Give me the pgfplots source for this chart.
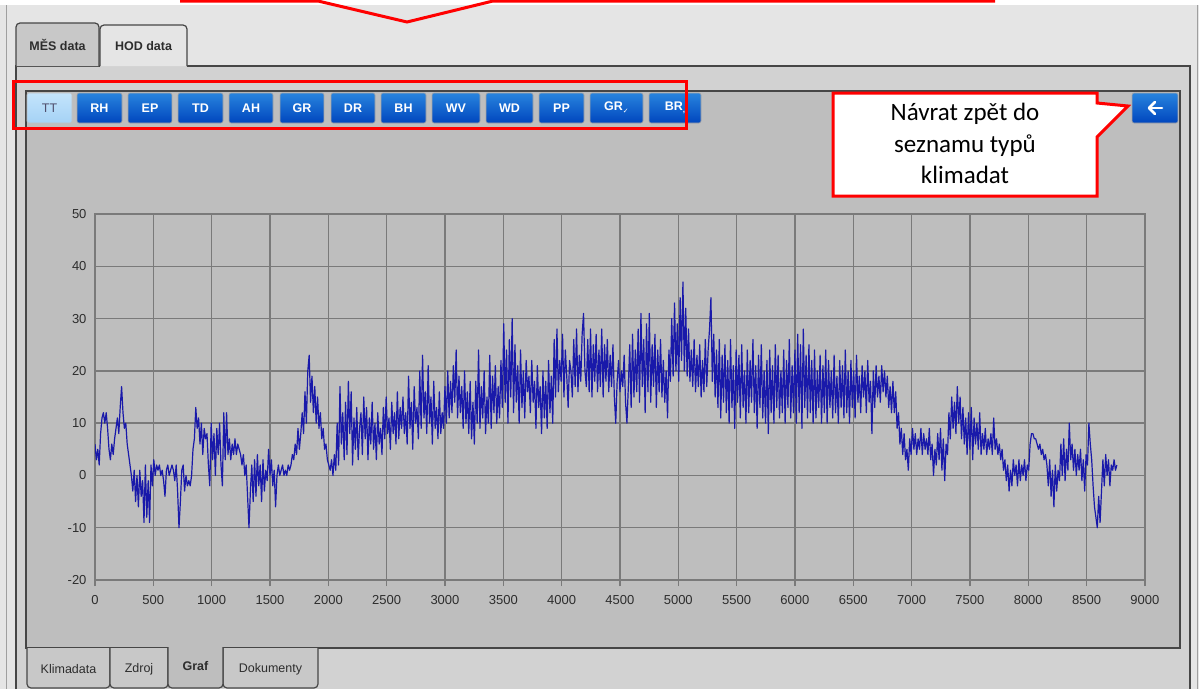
\documentclass[border=0pt]{standalone}
\usepackage{fontspec}
\setmainfont{Liberation Sans}
\newfontfamily\calibri{Carlito}
\newfontfamily\dejavu{DejaVu Sans}
\usepackage{pgfplots}
\pgfplotsset{compat=1.18}
\definecolor{outerbg}{RGB}{229,229,229}
\definecolor{panelbg}{RGB}{210,210,210}
\definecolor{chartbg}{RGB}{190,190,190}
\definecolor{gridc}{RGB}{122,122,122}
\definecolor{framec}{RGB}{70,70,70}
\definecolor{btntop}{RGB}{40,132,222}
\definecolor{btnbot}{RGB}{0,70,190}
\definecolor{tttop}{RGB}{195,228,252}
\definecolor{ttbot}{RGB}{165,210,245}
\definecolor{serie}{RGB}{25,25,170}
\definecolor{txt}{RGB}{45,45,45}
\definecolor{tabc}{RGB}{200,200,200}
\newcommand{\btn}[3]{%
  \shade[rounded corners=2pt, top color=btntop, bottom color=btnbot, draw=gray!70, line width=0.6pt] (#1,93) rectangle (#2,123);
  \node[white, font=\fontsize{12.5}{14}\selectfont\bfseries, inner sep=0pt] at ({(#1+#2)/2},108) {#3};
}
\begin{document}
\begin{tikzpicture}
\useasboundingbox (0,0) rectangle (1199pt,-689pt);
\begin{scope}[x=1pt,y=-1pt]
  \fill[white] (0,0) rectangle (1199,689);
  \fill[outerbg] (0,5) rectangle (1199,689);
  \draw[gray!75, line width=1pt] (6,5) -- (6,689);
  \draw[gray!75, line width=1pt] (1197,5) -- (1197,689);
  % panel body
  \fill[panelbg] (16,66) rectangle (1190,689);
  \draw[framec, line width=1.2pt] (16,689) -- (16,66) -- (100,66);
  \draw[framec, line width=1.2pt] (187,66) -- (1190,66) -- (1190,689);
  % top tabs
  \draw[framec, line width=1.2pt, fill=tabc, rounded corners=4pt] (16,66) -- (16,23) -- (99,23) -- (99,66);
  \draw[framec, line width=1.2pt, fill=outerbg, rounded corners=4pt] (100,66) -- (100,25) -- (187,25) -- (187,66);
  \node[txt, font=\fontsize{12.5}{14}\selectfont\bfseries] at (57.5,45) {MĚS data};
  \node[txt, font=\fontsize{12.5}{14}\selectfont\bfseries] at (143.5,46) {HOD data};
  % inner panel
  \filldraw[fill=chartbg, draw=framec, line width=1.5pt] (26,91) rectangle (1180,648);
  % buttons
  \shade[rounded corners=2pt, top color=tttop, bottom color=ttbot, draw=gray!50, line width=0.6pt] (27,93) rectangle (72,123);
  \node[font=\fontsize{12.5}{14}\selectfont, text={rgb,255:red,80;green,80;blue,110}, inner sep=0pt] at (49.5,108) {TT};
  \btn{77}{122}{RH}
  \btn{128}{172}{EP}
  \btn{178}{223}{TD}
  \btn{229}{273}{AH}
  \btn{280}{324}{GR}
  \btn{331}{375}{DR}
  \btn{381}{426}{BH}
  \btn{432}{480}{WV}
  \btn{486}{533}{WD}
  \btn{539}{584}{PP}
  \btn{590}{643}{GR\raisebox{-3pt}{\dejavu\fontsize{7}{8}\selectfont ✓}}
  \btn{649}{701}{BR\raisebox{-2pt}{\fontsize{8}{8}\selectfont ,}}
  \btn{1132}{1178}{}
  \draw[white, line width=2.6pt, line cap=round] (1162,108) -- (1149,108);
  \draw[white, line width=2.6pt, line cap=round, line join=round] (1155,102) -- (1149,108) -- (1155,114);
  % red frame round buttons
  \draw[red, line width=3pt] (13,81) rectangle (686,128);
  % top red callout edge
  \draw[red, line width=3pt] (180,1) -- (318,1) -- (407,22) -- (493,1) -- (995,1);
  % callout
  \draw[red, line width=3pt, fill=white] (833,93) -- (1097,93) -- (1097,103) -- (1128,106) -- (1097,137) -- (1097,196) -- (833,196) -- cycle;
  \node[anchor=base, font=\calibri\fontsize{25}{30}\selectfont, inner sep=0pt] at (965,120) {Návrat zpět do};
  \node[anchor=base, font=\calibri\fontsize{25}{30}\selectfont, inner sep=0pt] at (965,152) {seznamu typů};
  \node[anchor=base, font=\calibri\fontsize{25}{30}\selectfont, inner sep=0pt] at (965,183) {klimadat};
  % bottom tabs
  \draw[framec, line width=1.2pt, fill=tabc, rounded corners=4pt] (27,648) -- (27,688) -- (110,688) -- (110,648);
  \draw[framec, line width=1.2pt, fill=tabc, rounded corners=4pt] (110,648) -- (110,688) -- (168,688) -- (168,648);
  \draw[framec, line width=1.2pt, fill=tabc, rounded corners=4pt] (223,648) -- (223,688) -- (318,688) -- (318,648);
  \fill[chartbg] (168,645) rectangle (223,688);
  \draw[framec, line width=1.2pt, rounded corners=4pt] (168,647) -- (168,688) -- (223,688) -- (223,647);
  \node[txt, font=\fontsize{12.5}{14}\selectfont] at (68.5,669) {Klimadata};
  \node[txt, font=\fontsize{12.5}{14}\selectfont] at (139,669) {Zdroj};
  \node[txt, font=\fontsize{12.5}{14}\selectfont\bfseries] at (195.5,666) {Graf};
  \node[txt, font=\fontsize{12.5}{14}\selectfont] at (270.5,669) {Dokumenty};
\end{scope}
\begin{axis}[
  at={(95pt,-580pt)}, anchor=south west,
  width=1050pt, height=366pt, scale only axis,
  xmin=0, xmax=9000, ymin=-20, ymax=50,
  xtick={0,500,...,9000}, ytick={-20,-10,...,50},
  grid=major, major grid style={gridc, line width=1.4pt},
  axis line style={gridc, line width=1.4pt},
  tick align=outside, major tick length=6pt,
  xtick style={gridc, line width=1.4pt}, ytick style={draw=none},
  xtick pos=lower, ytick pos=left,
  tick label style={font=\fontsize{13}{15}\selectfont, text=txt},
  /pgf/number format/assume math mode=true,
  /pgf/number format/1000 sep={},
  scaled ticks=false,
  xticklabel style={yshift=-6pt},
  yticklabel style={xshift=1pt},
]
\addplot[serie, line width=1.2pt, line join=round, mark=none] table[row sep=\\, header=false, x expr=\coordindex*12, y index=0] {
6\\3\\5\\2\\8\\11\\12\\10\\12\\9\\
5\\3\\6\\4\\7\\9\\11\\8\\13\\17\\
12\\9\\10\\6\\4\\2\\0\\-3\\1\\-5\\
0\\-6\\1\\-4\\-1\\-9\\2\\-8\\-1\\-9\\
2\\-2\\3\\0\\2\\1\\2\\0\\1\\-1\\
-4\\1\\2\\0\\1\\2\\1\\-1\\2\\-3\\
-10\\-5\\1\\2\\-3\\0\\-2\\-1\\-2\\0\\
5\\7\\13\\9\\11\\6\\10\\4\\9\\7\\
8\\2\\-2\\10\\3\\8\\0\\9\\4\\10\\
2\\-2\\12\\3\\12\\4\\7\\3\\6\\4\\
7\\4\\6\\5\\4\\2\\4\\0\\2\\-4\\
-10\\-3\\2\\-5\\3\\-4\\4\\-2\\2\\-5\\
3\\-3\\1\\-1\\5\\0\\3\\-2\\1\\-6\\
0\\2\\0\\1\\2\\0\\1\\0\\2\\1\\
2\\4\\3\\6\\4\\9\\5\\8\\12\\8\\
16\\10\\20\\23\\14\\19\\12\\17\\10\\15\\
9\\12\\7\\9\\5\\6\\3\\2\\1\\3\\
0\\4\\1\\10\\2\\17\\6\\12\\3\\14\\
4\\18\\8\\16\\2\\11\\5\\13\\3\\9\\
12\\4\\15\\7\\13\\3\\11\\6\\14\\5\\
10\\3\\12\\6\\9\\4\\13\\7\\15\\8\\
11\\5\\14\\8\\12\\6\\16\\7\\13\\9\\
15\\8\\12\\6\\19\\9\\14\\5\\17\\10\\
13\\7\\20\\9\\23\\11\\16\\8\\21\\10\\
15\\6\\18\\9\\13\\7\\16\\8\\12\\9\\
17\\10\\20\\11\\18\\12\\21\\14\\24\\11\\
19\\12\\17\\9\\20\\10\\16\\8\\18\\7\\
14\\6\\18\\10\\24\\9\\17\\11\\20\\8\\
15\\10\\23\\9\\19\\12\\21\\10\\17\\11\\
22\\13\\29\\14\\24\\10\\26\\15\\30\\12\\
25\\14\\21\\10\\24\\13\\20\\11\\22\\16\\
19\\12\\22\\14\\18\\9\\21\\13\\17\\8\\
20\\11\\18\\9\\22\\12\\19\\10\\26\\15\\
28\\16\\22\\18\\27\\15\\24\\19\\13\\22\\
20\\15\\26\\17\\28\\16\\23\\18\\27\\31\\
20\\17\\26\\16\\28\\15\\25\\18\\27\\16\\
24\\17\\28\\15\\25\\18\\26\\16\\23\\17\\
25\\15\\10\\18\\22\\16\\20\\17\\23\\14\\
10\\17\\25\\13\\27\\15\\24\\16\\28\\14\\
31\\17\\26\\12\\29\\16\\31\\14\\25\\17\\
27\\13\\24\\16\\26\\15\\22\\14\\20\\11\\
24\\18\\30\\19\\33\\20\\29\\18\\34\\22\\
37\\20\\32\\19\\28\\18\\24\\17\\26\\16\\
23\\17\\25\\15\\22\\16\\26\\17\\24\\28\\
34\\18\\27\\15\\24\\13\\26\\11\\23\\14\\
25\\12\\22\\10\\26\\13\\21\\9\\24\\14\\
23\\11\\25\\13\\20\\10\\24\\12\\22\\14\\
26\\12\\21\\9\\23\\13\\25\\11\\20\\10\\
22\\8\\24\\12\\21\\10\\25\\13\\23\\11\\
20\\12\\24\\10\\22\\13\\26\\11\\21\\12\\
24\\10\\27\\12\\25\\9\\28\\13\\23\\11\\
25\\12\\22\\10\\24\\11\\20\\13\\23\\10\\
21\\12\\24\\10\\22\\13\\20\\11\\23\\12\\
19\\10\\22\\13\\21\\11\\24\\12\\20\\10\\
22\\13\\20\\11\\23\\14\\19\\12\\21\\15\\
20\\12\\22\\14\\18\\8\\20\\13\\21\\15\\
19\\14\\21\\16\\20\\15\\19\\13\\17\\12\\
18\\12\\16\\9\\12\\6\\9\\4\\8\\3\\
5\\1\\7\\4\\9\\5\\8\\4\\7\\5\\
9\\4\\8\\5\\7\\4\\9\\3\\6\\0\\
5\\2\\8\\3\\9\\1\\7\\-1\\6\\4\\
12\\7\\15\\9\\14\\8\\17\\10\\15\\7\\
13\\6\\11\\4\\12\\5\\13\\3\\11\\6\\
10\\5\\12\\4\\8\\5\\9\\4\\7\\5\\
8\\4\\11\\5\\7\\4\\6\\3\\5\\1\\
3\\-1\\2\\-3\\1\\-2\\3\\0\\2\\-2\\
3\\-1\\2\\0\\3\\-1\\2\\1\\6\\8\\
8\\7\\7\\6\\5\\6\\4\\5\\3\\4\\
2\\-2\\3\\-4\\1\\-6\\2\\-3\\1\\-1\\
6\\0\\7\\-1\\5\\1\\10\\3\\6\\1\\
5\\0\\4\\1\\5\\-1\\3\\-3\\4\\2\\
10\\6\\3\\-2\\-6\\-8\\-10\\-4\\-9\\-3\\
3\\-2\\4\\0\\3\\-2\\2\\1\\3\\1\\
2\\
};
\end{axis}
\end{tikzpicture}
\end{document}
